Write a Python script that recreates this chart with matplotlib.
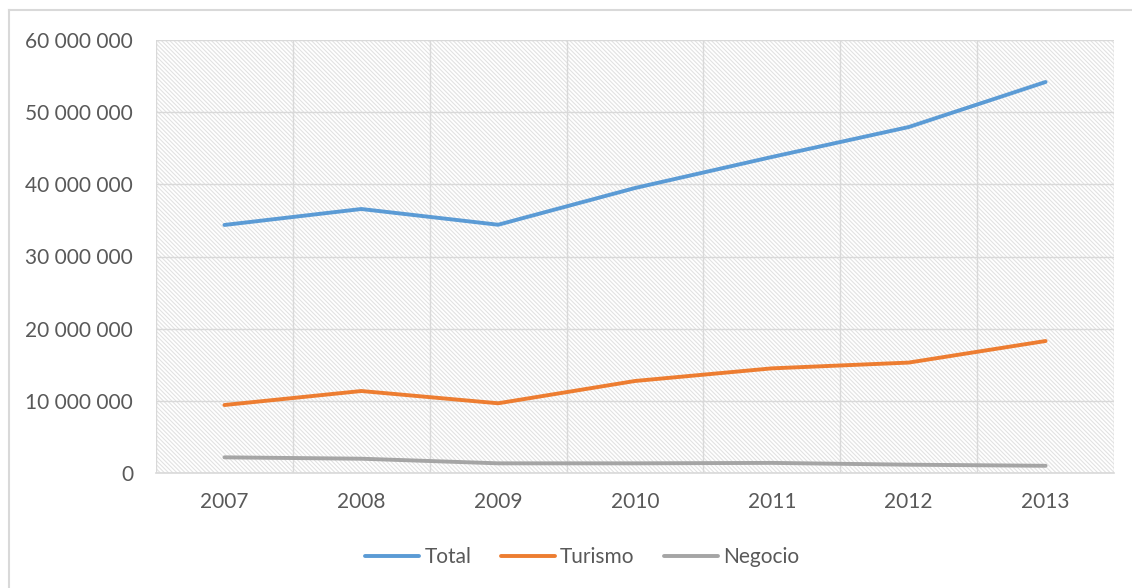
import matplotlib
matplotlib.use("Agg")
import matplotlib.pyplot as plt
from matplotlib.patches import Rectangle
from matplotlib.lines import Line2D
from matplotlib.ticker import FuncFormatter, FixedLocator

# Data
years = ["2007", "2008", "2009", "2010", "2011", "2012", "2013"]
total = [34_370_000, 36_580_000, 34_400_000, 39_490_000, 43_790_000, 47_940_000, 54_180_000]
turismo = [9_420_000, 11_360_000, 9_660_000, 12_750_000, 14_500_000, 15_300_000, 18_290_000]
negocio = [2_170_000, 1_980_000, 1_340_000, 1_340_000, 1_400_000, 1_150_000, 1_000_000]
series_names = ["Total", "Turismo", "Negocio"]
series_colors = ["#5B9BD5", "#ED7D31", "#A5A5A5"]

plt.rcParams["font.family"] = ["Lato", "DejaVu Sans"]
plt.rcParams["hatch.linewidth"] = 0.8

TEXT = "#595959"
GRID = "#d9d9d9"

fig = plt.figure(figsize=(11.32, 5.88), dpi=100)
ax = fig.add_axes([156 / 1132, 115 / 588, 958 / 1132, 433 / 588])

# Hatched plot-area background
bg = Rectangle((0, 0), 1, 1, transform=ax.transAxes, facecolor="white",
               edgecolor="#e2e2e2", hatch="\\" * 8, linewidth=0, zorder=0)
ax.add_patch(bg)

x = list(range(len(years)))
for vals, name, col in zip([total, turismo, negocio], series_names, series_colors):
    ax.plot(x, vals, color=col, lw=2.8, solid_capstyle="round",
            solid_joinstyle="round", label=name, zorder=3)

ax.set_xlim(-0.5, len(years) - 0.5)
ax.set_ylim(0, 60_000_000)
ax.set_yticks(range(0, 60_000_001, 10_000_000))
ax.yaxis.set_major_formatter(FuncFormatter(lambda v, p: f"{v:,.0f}".replace(",", " ")))
ax.set_xticks(x)
ax.set_xticklabels(years)
ax.xaxis.set_minor_locator(FixedLocator([i - 0.5 for i in range(len(years) + 1)]))

ax.grid(axis="y", which="major", color=GRID, lw=1.0, zorder=1)
ax.grid(axis="x", which="minor", color=GRID, lw=1.0, zorder=1)
ax.grid(axis="x", which="major", visible=False)

for side in ["top", "right", "left"]:
    ax.spines[side].set_visible(False)
ax.spines["bottom"].set_color(GRID)
ax.spines["bottom"].set_linewidth(1.2)

ax.tick_params(axis="both", which="both", length=0, labelsize=15, labelcolor=TEXT)
ax.tick_params(axis="x", pad=13.5)
ax.tick_params(axis="y", pad=16.5)

handles = [Line2D([0], [0], color=c, lw=2.8, solid_capstyle="round") for c in series_colors]
leg = fig.legend(handles, series_names, loc="center", bbox_to_anchor=(582 / 1132, 1 - 557 / 588),
                 ncol=3, frameon=False, fontsize=15, handlelength=2.6, handletextpad=0.25,
                 columnspacing=1.4, labelcolor=TEXT)

# Chart frame (left and top edges)
fig.add_artist(Line2D([8.5 / 1132, 8.5 / 1132], [0, 1 - 10 / 588], color="#d9d9d9", lw=1.5,
                      transform=fig.transFigure))
fig.add_artist(Line2D([8.5 / 1132, 1], [1 - 10 / 588, 1 - 10 / 588], color="#d9d9d9", lw=1.5,
                      transform=fig.transFigure))

fig.savefig("out.png", dpi=100)
